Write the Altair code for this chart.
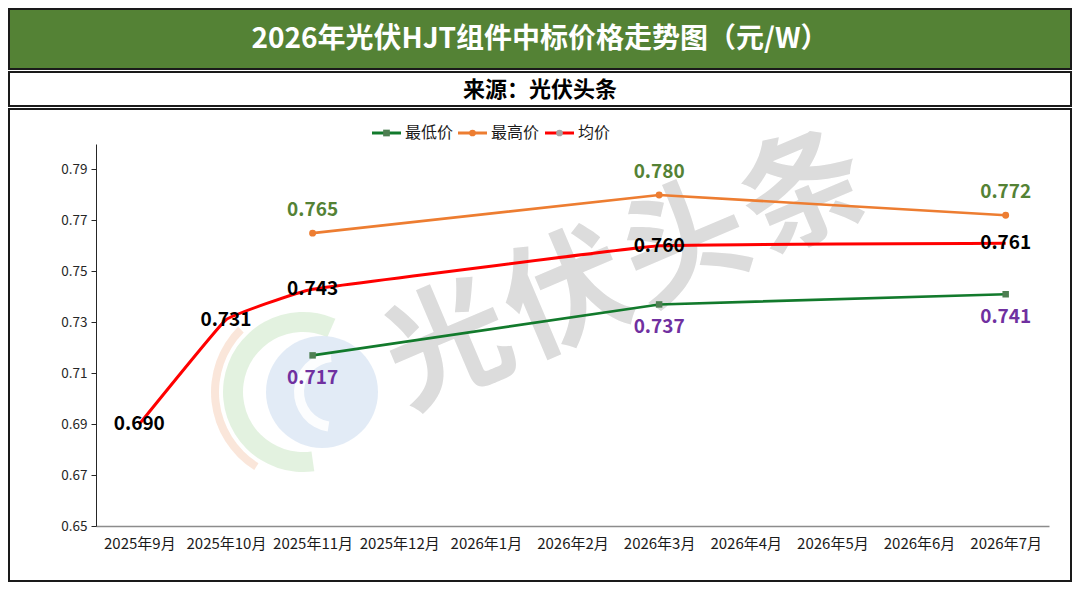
import altair as alt
import pandas as pd

# ---------------- data ----------------
months = ["2025年9月", "2025年10月", "2025年11月", "2025年12月", "2026年1月",
          "2026年2月", "2026年3月", "2026年4月", "2026年5月", "2026年6月", "2026年7月"]

low_months = ["2025年11月", "2026年3月", "2026年7月"]
low_values = [0.717, 0.737, 0.741]

high_months = ["2025年11月", "2026年3月", "2026年7月"]
high_values = [0.765, 0.780, 0.772]

avg_months = ["2025年9月", "2025年10月", "2025年11月", "2026年3月", "2026年7月"]
avg_values = [0.690, 0.731, 0.743, 0.760, 0.761]

series_names = ["最低价", "最高价", "均价"]
y_ticks = [0.65, 0.67, 0.69, 0.71, 0.73, 0.75, 0.77, 0.79]

title_text = "2026年光伏HJT组件中标价格走势图（元/W）"
subtitle_text = "来源：光伏头条"
watermark_chars = ["光", "伏", "头", "条"]

# ---------------- style ----------------
FONT = "Noto Sans CJK SC"
LINE_COLORS = {"最低价": "#127A2C", "最高价": "#ED7D31", "均价": "#FF0000"}
MARKER_COLORS = {"最低价": "#4E7F52", "最高价": "#ED7D31", "均价": "#A5A5A5"}
LABEL_COLORS = {"最低价": "#7030A0", "最高价": "#548235", "均价": "#000000"}

W, H = 953, 382          # plot area
PAD_L, PAD_T = 88, 136
PAD_R = 1064 - PAD_L - W
PAD_B = 574 - PAD_T - H

df_low = pd.DataFrame({"month": low_months, "value": low_values})
df_low["label"] = [f"{v:.3f}" for v in low_values]
df_high = pd.DataFrame({"month": high_months, "value": high_values})
df_high["label"] = [f"{v:.3f}" for v in high_values]
df_avg = pd.DataFrame({"month": avg_months, "value": avg_values})
df_avg["label"] = [f"{v:.3f}" for v in avg_values]

one = pd.DataFrame({"k": [0]})

x_enc = alt.X(
    "month:N",
    scale=alt.Scale(type="point", domain=months, padding=0.5),
    axis=alt.Axis(labelAngle=0, ticks=False, domainColor="#8C8C8C", domainWidth=1.5,
                  labelFontSize=15, labelFont=FONT, labelColor="#1A1A1A", labelPadding=10,
                  zindex=1),
    title=None,
)
y_enc = alt.Y(
    "value:Q",
    scale=alt.Scale(domain=[0.65, 0.80], nice=False, zero=False),
    axis=alt.Axis(values=y_ticks, format=".2f", grid=False, domainColor="#262626",
                  tickColor="#262626", tickSize=5, labelPadding=4, labelFontSize=13.5,
                  labelFont=FONT, labelColor="#262626", zindex=1),
    title=None,
)

# ---------------- decorations (frame, header) ----------------
panel = alt.Chart(one).mark_rect(fill="white", stroke="#1A1A1A", strokeWidth=2).encode(
    x=alt.value(-PAD_L + 1), x2=alt.value(W + PAD_R - 1),
    y=alt.value(-35), y2=alt.value(H + PAD_B - 1))
sub_box = alt.Chart(one).mark_rect(fill="white", stroke="#1A1A1A", strokeWidth=2).encode(
    x=alt.value(-PAD_L + 1), x2=alt.value(W + PAD_R - 1),
    y=alt.value(-72), y2=alt.value(-38))
title_box = alt.Chart(one).mark_rect(fill="#548235", stroke="#1A1A1A", strokeWidth=2).encode(
    x=alt.value(-PAD_L + 1), x2=alt.value(W + PAD_R - 1),
    y=alt.value(-PAD_T + 1), y2=alt.value(-75))
title_mark = alt.Chart(one).mark_text(
    font=FONT, fontSize=28, fontWeight="bold", color="white", align="center", baseline="middle"
).encode(x=alt.value((W + PAD_R - PAD_L) / 2), y=alt.value(-104), text=alt.value(title_text))
sub_mark = alt.Chart(one).mark_text(
    font=FONT, fontSize=22, fontWeight="bold", color="#000000", align="center", baseline="middle"
).encode(x=alt.value((W + PAD_R - PAD_L) / 2), y=alt.value(-54), text=alt.value(subtitle_text))

# faint logo watermark
logo_orange = alt.Chart(one).mark_arc(
    innerRadius=84, outerRadius=92, theta=3.7, theta2=5.5, color="#F8DCCB", opacity=0.7
).encode(x=alt.value(207), y=alt.value(248))
logo_green = alt.Chart(one).mark_arc(
    innerRadius=60, outerRadius=80, theta=3.0, theta2=6.7, color="#DCEFD8", opacity=0.8
).encode(x=alt.value(207), y=alt.value(248))
logo_blue = alt.Chart(one).mark_arc(
    innerRadius=0, outerRadius=56, color="#DDE8F4", opacity=0.85
).encode(x=alt.value(226), y=alt.value(248))
logo_white = alt.Chart(one).mark_arc(
    innerRadius=30, outerRadius=40, theta=3.3, theta2=6.2, color="#FFFFFF", opacity=0.9
).encode(x=alt.value(238), y=alt.value(248))

# big text watermark
wm = pd.DataFrame({"ch": watermark_chars, "i": list(range(len(watermark_chars)))})
watermark = alt.Chart(wm).transform_calculate(
    wx="354 + datum.i * 118.5", wy="206 - datum.i * 51"
).mark_text(
    font=FONT, fontSize=124, fontWeight="bold", color="#D6D6D6", opacity=0.85,
    angle=337, align="center", baseline="middle"
).encode(x=alt.X("wx:Q", scale=None), y=alt.Y("wy:Q", scale=None), text="ch:N")

# ---------------- series ----------------
low_line = alt.Chart(df_low).mark_line(color=LINE_COLORS["最低价"], strokeWidth=2.6).encode(x=x_enc, y=y_enc)
high_line = alt.Chart(df_high).mark_line(color=LINE_COLORS["最高价"], strokeWidth=2.6).encode(x=x_enc, y=y_enc)
avg_line = alt.Chart(df_avg).mark_line(color=LINE_COLORS["均价"], strokeWidth=3,
                                       interpolate="cardinal", tension=0.8).encode(x=x_enc, y=y_enc)

low_pts = alt.Chart(df_low).mark_point(shape="square", filled=True, size=42, opacity=1,
                                       color=MARKER_COLORS["最低价"]).encode(x=x_enc, y=y_enc)
high_pts = alt.Chart(df_high).mark_point(shape="circle", filled=True, size=48, opacity=1,
                                         color=MARKER_COLORS["最高价"]).encode(x=x_enc, y=y_enc)


def labels(df, name, dy):
    return alt.Chart(df).mark_text(
        font=FONT, fontSize=19, fontWeight="bold", color=LABEL_COLORS[name],
        align="center", baseline="middle", dy=dy
    ).encode(x=x_enc, y=y_enc, text="label:N")


low_lab = labels(df_low, "最低价", 23)
high_lab = labels(df_high, "最高价", -23)
avg_lab = labels(df_avg, "均价", 0)

# ---------------- legend (manual) ----------------
legend_x = [276, 362, 449]
legend_y = -11
legend_layers = []
shapes = {"最低价": "square", "最高价": "circle", "均价": "circle"}
for name, lx in zip(series_names, legend_x):
    d = pd.DataFrame({"series": [name]})
    legend_layers.append(alt.Chart(d).mark_rule(color=LINE_COLORS[name], strokeWidth=3).encode(
        x=alt.value(lx), x2=alt.value(lx + 29), y=alt.value(legend_y)))
    legend_layers.append(alt.Chart(d).mark_point(shape=shapes[name], filled=True, size=45, opacity=1,
                                                 color=MARKER_COLORS[name]).encode(
        x=alt.value(lx + 14.5), y=alt.value(legend_y)))
    legend_layers.append(alt.Chart(d).mark_text(font=FONT, fontSize=16, color="#1A1A1A",
                                                align="left", baseline="middle").encode(
        x=alt.value(lx + 33), y=alt.value(legend_y), text="series:N"))

chart = alt.layer(
    panel, sub_box, title_box, title_mark, sub_mark,
    logo_orange, logo_green, logo_blue, logo_white, watermark,
    low_line, high_line, avg_line, low_pts, high_pts,
    low_lab, high_lab, avg_lab, *legend_layers
).properties(
    width=W, height=H,
    autosize=alt.AutoSizeParams(type="none"),
    padding={"left": PAD_L, "top": PAD_T, "right": PAD_R, "bottom": PAD_B},
    background="white",
).configure_view(stroke=None)

chart.save("out.html", embed_options={"renderer": "svg", "actions": False})
